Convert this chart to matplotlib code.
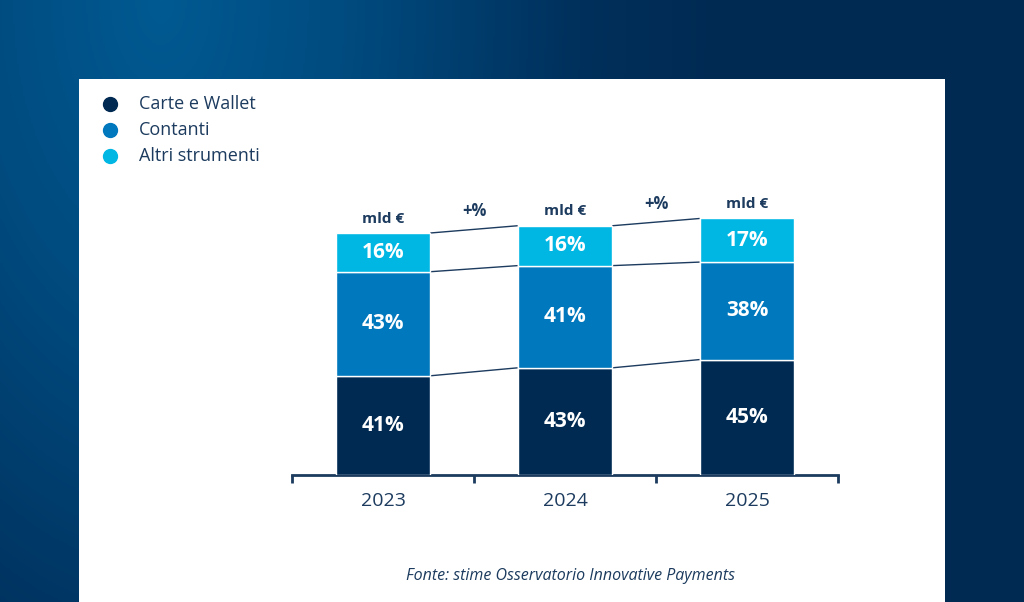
import numpy as np
import matplotlib
matplotlib.use("Agg")
import matplotlib.pyplot as plt
from matplotlib.colors import LinearSegmentedColormap
from matplotlib.patches import Rectangle
from matplotlib.lines import Line2D

# ---- data ----
years = ["2023", "2024", "2025"]
series_names = ["Carte e Wallet", "Contanti", "Altri strumenti"]
carte_pct = [41, 43, 45]
contanti_pct = [43, 41, 38]
altri_pct = [16, 16, 17]
totals = [100, 103, 106]          # relative size of each year's bar (mld €, index)
value_label = "mld €"
growth_label = "+%"
source = "Fonte: stime Osservatorio Innovative Payments"

colors = ["#002a52", "#0078bd", "#00b7e4"]
navy = "#1c3b5e"

W, H = 1024, 602
fig = plt.figure(figsize=(W / 100, H / 100), dpi=100)

# background gradient (radial-ish, light at top-left)
bg = fig.add_axes([0, 0, 1, 1], zorder=0)
cmap = LinearSegmentedColormap.from_list(
    "bg", [(0, "#005a92"), (0.35, "#004a7e"), (0.75, "#00305c"), (1, "#002a52")])
xx, yy = np.meshgrid(np.arange(0, W, 2), np.arange(0, H, 2))
t = np.sqrt(((xx - 160) / 560.0) ** 2 + (yy / 950.0) ** 2)
t = np.clip(t, 0, 1)
bg.imshow(t, aspect="auto", cmap=cmap, extent=[0, 1, 0, 1], origin="upper",
          vmin=0, vmax=1, interpolation="bilinear")
bg.set_axis_off()
bg.add_patch(Rectangle((79 / W, 0), (945 - 79) / W, (H - 79) / H,
                       transform=bg.transAxes, facecolor="white", edgecolor="none"))
bg.set_xlim(0, 1)
bg.set_ylim(0, 1)

# main axes
ax_left, ax_right = 292, 838
ax_bottom, ax_top = 475, 200
ax = fig.add_axes([ax_left / W, (H - ax_bottom) / H, (ax_right - ax_left) / W,
                   (ax_bottom - ax_top) / H], zorder=2)
ax.patch.set_alpha(0)
px_per_unit = 242 / totals[0]
ax.set_xlim(-0.5, 2.5)
ax.set_ylim(0, (ax_bottom - ax_top) / px_per_unit)

x = np.arange(len(years))
bw = 0.52
segs = [np.array(carte_pct), np.array(contanti_pct), np.array(altri_pct)]
tot = np.array(totals, dtype=float)
bottom = np.zeros(len(years))
bounds = []
for pct, c in zip(segs, colors):
    h = tot * pct / 100.0
    ax.bar(x, h, bw, bottom=bottom, color=c, edgecolor="white", linewidth=1.0, zorder=3)
    for xi, b, hh, p in zip(x, bottom, h, pct):
        ax.text(xi, b + hh / 2, f"{p}%", ha="center", va="center", color="white",
                fontsize=15, fontweight="bold", family="Open Sans", zorder=4)
    bottom = bottom + h
    bounds.append(bottom.copy())

# connector lines
for bnd in bounds:
    for i in range(len(years) - 1):
        ax.plot([x[i] + bw / 2, x[i + 1] - bw / 2], [bnd[i], bnd[i + 1]],
                color=navy, lw=1.0, zorder=2, solid_capstyle="butt")

top = bounds[-1]
for xi, t_ in zip(x, top):
    ax.text(xi, t_ + 3, value_label, ha="center", va="bottom", color=navy,
            fontsize=11, fontweight="bold", family="Open Sans")
for i in range(len(years) - 1):
    ax.text((x[i] + x[i + 1]) / 2, (top[i] + top[i + 1]) / 2 + 3.8, growth_label,
            ha="center", va="bottom", color=navy, fontsize=12, fontweight="bold",
            family="Open Sans")

# axis styling
for s in ["top", "right", "left"]:
    ax.spines[s].set_visible(False)
ax.spines["bottom"].set_color(navy)
ax.spines["bottom"].set_linewidth(2)
ax.set_yticks([])
ax.set_xticks(x)
ax.set_xticklabels(years, fontsize=14, color=navy, family="Open Sans")
ax.tick_params(axis="x", which="major", length=0, pad=12)
ax.set_xticks([-0.5, 0.5, 1.5, 2.5], minor=True)
ax.tick_params(axis="x", which="minor", length=6, width=2, color=navy, direction="out")

# legend
leg_y = [104, 130, 156]
for yy_, c, name in zip(leg_y, colors, series_names):
    bg.add_line(Line2D([110 / W], [1 - yy_ / H], marker="o", markersize=10,
                       color=c, linestyle="none", transform=bg.transAxes))
    bg.text(139 / W, 1 - yy_ / H, name, ha="left", va="center", color=navy,
            fontsize=13, family="Open Sans", transform=bg.transAxes)

# source
bg.text(570 / W, 1 - 576 / H, source, ha="center", va="center", color=navy,
        fontsize=11.5, style="italic", family="Open Sans", transform=bg.transAxes)

fig.savefig("out.png", dpi=100)
